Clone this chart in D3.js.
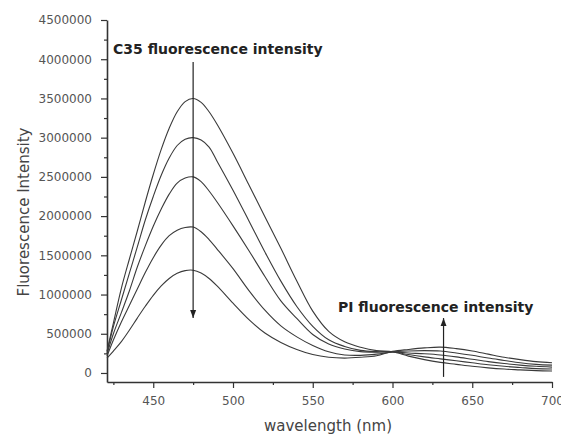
<!DOCTYPE html>
<html>
<head>
<meta charset="utf-8">
<script src="https://cdn.jsdelivr.net/npm/d3@7"></script>
<style>
  body { margin: 0; background: #fff; }
  .tick text { font-family: "DejaVu Sans", sans-serif; font-size: 12px; fill: #555; }
  .tick line, .domain { stroke: #333; }
</style>
</head>
<body>
<svg id="svg" width="561" height="437"></svg>
<script>
    // wavelength (nm) and the five spectra
    var wavelength = [421, 425, 430, 435, 440, 445, 450, 455, 460, 465, 470, 475, 480, 485, 490,
                      500, 510, 520, 530, 540, 550, 560, 570, 580, 590, 600,
                      610, 620, 630, 640, 650, 660, 670, 680, 690, 700];
    var series1 = [280000, 637000, 1080000, 1450000, 1810000, 2180000, 2530000, 2850000, 3120000, 3330000, 3460000, 3500000, 3450000, 3330000, 3170000,
                   2800000, 2397000, 1993000, 1590000, 1173000, 789000, 531000, 398000, 328000, 285000, 270000,
                   215000, 170000, 135000, 110000, 85000, 65000, 50000, 40000, 30000, 25000];
    var series2 = [260000, 590000, 930000, 1270000, 1607000, 1950000, 2250000, 2520000, 2740000, 2900000, 2980000, 3000000, 2970000, 2880000, 2700000,
                   2330000, 1938000, 1542000, 1171000, 848000, 595000, 423000, 338000, 288000, 272000, 270000,
                   235000, 205000, 180000, 155000, 130000, 105000, 85000, 70000, 55000, 50000];
    var series3 = [240000, 500000, 770000, 1045000, 1351000, 1620000, 1870000, 2090000, 2280000, 2420000, 2485000, 2500000, 2440000, 2320000, 2180000,
                   1876000, 1559000, 1230000, 920000, 695000, 490000, 368000, 305000, 272000, 265000, 268000,
                   255000, 245000, 230000, 205000, 175000, 145000, 120000, 100000, 85000, 75000];
    var series4 = [215000, 420000, 650000, 860000, 1070000, 1280000, 1470000, 1630000, 1750000, 1820000, 1855000, 1860000, 1800000, 1700000, 1580000,
                   1330000, 1050000, 800000, 600000, 460000, 350000, 270000, 230000, 225000, 240000, 268000,
                   280000, 285000, 280000, 255000, 225000, 190000, 160000, 130000, 110000, 100000];
    var series5 = [190000, 280000, 400000, 545000, 700000, 850000, 990000, 1110000, 1205000, 1270000, 1305000, 1310000, 1275000, 1205000, 1110000,
                   890000, 680000, 510000, 390000, 300000, 235000, 200000, 190000, 200000, 220000, 275000,
                   300000, 320000, 330000, 310000, 280000, 240000, 200000, 170000, 145000, 130000];
    var allSeries = [series1, series2, series3, series4, series5];

    var xTicks = [450, 500, 550, 600, 650, 700];
    var xMinor = [425, 475, 525, 575, 625, 675];
    var yTicks = [0, 500000, 1000000, 1500000, 2000000, 2500000, 3000000, 3500000, 4000000, 4500000];
    var yMinor = [250000, 750000, 1250000, 1750000, 2250000, 2750000, 3250000, 3750000, 4250000];

    // arrows: [wavelength, from, to]
    var arrowC35 = [475, 3965000, 700000];
    var arrowPI = [632, -50000, 700000];

    var svg = d3.select("#svg");
    var x = d3.scaleLinear().domain([421, 700]).range([107, 552]);
    var y = d3.scaleLinear().domain([-115000, 4500000]).range([382, 20]);

    // minor ticks first, then the major ones
    svg.append("g").attr("transform", "translate(0,382)")
        .call(d3.axisBottom(x).tickValues(xMinor).tickSize(3).tickFormat(""))
        .select(".domain").remove();
    svg.append("g").attr("transform", "translate(107,0)")
        .call(d3.axisLeft(y).tickValues(yMinor).tickSize(3).tickFormat(""))
        .select(".domain").remove();

    var gx = svg.append("g").attr("transform", "translate(0,382)")
        .call(d3.axisBottom(x).tickValues(xTicks).tickSize(6).tickSizeOuter(0).tickPadding(8));
    var gy = svg.append("g").attr("transform", "translate(107,0)")
        .call(d3.axisLeft(y).tickValues(yTicks).tickSize(6).tickSizeOuter(0).tickPadding(9).tickFormat(d3.format("d")));
    svg.selectAll(".domain").attr("stroke-width", 1.6);
    svg.selectAll(".tick line").attr("stroke-width", 1.2);

    var line = d3.line()
        .x(function (d, i) { return x(wavelength[i]); })
        .y(function (d) { return y(d); })
        .curve(d3.curveCatmullRom.alpha(0.5));

    svg.selectAll(".spectrum")
        .data(allSeries)
        .enter().append("path")
        .attr("class", "spectrum")
        .attr("fill", "none")
        .attr("stroke", "#3a3a3a")
        .attr("stroke-width", 1.1)
        .attr("d", line);

    // arrow heads
    svg.append("defs").append("marker")
        .attr("id", "head")
        .attr("viewBox", "0 0 8 10")
        .attr("refX", 8).attr("refY", 5)
        .attr("markerWidth", 8).attr("markerHeight", 10)
        .attr("markerUnits", "userSpaceOnUse")
        .attr("orient", "auto")
        .append("path")
        .attr("d", "M0,2L8,5L0,8Z")
        .attr("fill", "#222");

    [arrowC35, arrowPI].forEach(function (a) {
        svg.append("line")
            .attr("x1", x(a[0])).attr("x2", x(a[0]))
            .attr("y1", y(a[1])).attr("y2", y(a[2]))
            .attr("stroke", "#222")
            .attr("stroke-width", 1.2)
            .attr("marker-end", "url(#head)");
    });

    svg.append("text")
        .attr("x", 113).attr("y", 54)
        .style("font-family", "DejaVu Sans, sans-serif")
        .style("font-weight", "bold").style("font-size", "14px").style("fill", "#222")
        .text("C35 fluorescence intensity");
    svg.append("text")
        .attr("x", 338).attr("y", 312)
        .style("font-family", "DejaVu Sans, sans-serif")
        .style("font-weight", "bold").style("font-size", "14px").style("fill", "#222")
        .text("PI fluorescence intensity");

    svg.append("text")
        .attr("x", 328).attr("y", 431)
        .attr("text-anchor", "middle")
        .style("font-family", "DejaVu Sans, sans-serif").style("font-size", "15px").style("fill", "#444")
        .text("wavelength (nm)");
    svg.append("text")
        .attr("transform", "translate(29,212) rotate(-90)")
        .attr("text-anchor", "middle")
        .style("font-family", "DejaVu Sans, sans-serif").style("font-size", "15px").style("fill", "#444")
        .text("Fluorescence Intensity");
</script>
</body>
</html>
